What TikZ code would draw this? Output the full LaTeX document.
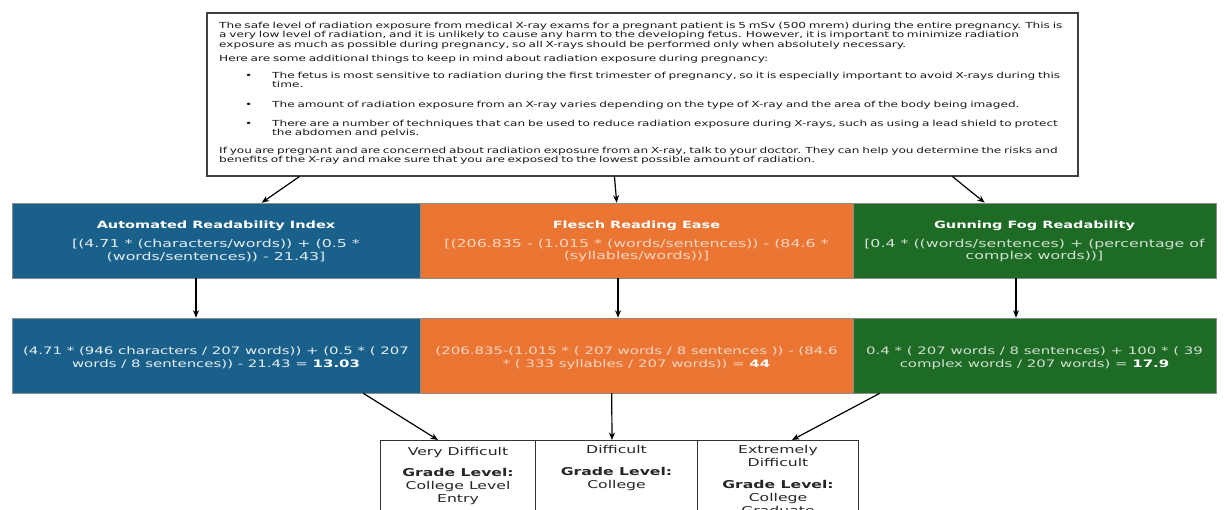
\documentclass[tikz,border=0pt]{standalone}
\usepackage{fontspec}
\setmainfont{DejaVu Sans}[FakeStretch=1.45]
\usetikzlibrary{arrows.meta,calc}
\definecolor{ariblue}{HTML}{19608A}
\definecolor{freorange}{HTML}{EB7533}
\definecolor{gungreen}{HTML}{1D6B24}
\definecolor{inktext}{HTML}{1A1A1A}
\begin{document}
\begin{tikzpicture}[x=1pt,y=-1pt,
  srcbox/.style={draw=black!75, line width=1.1pt, minimum width=871pt, minimum height=163pt, inner sep=0pt},
  colbox/.style={draw=black!45, line width=0.6pt, minimum height=75pt, inner sep=0pt},
  titletext/.style={font=\fontsize{10}{11}\selectfont\bfseries, text=white, inner sep=0pt},
  formtext/.style={font=\fontsize{10.9}{12.5}\selectfont, align=center, inner sep=0pt},
  calctext/.style={font=\fontsize{10.3}{12.5}\selectfont, align=center, inner sep=0pt},
  gradebox/.style={draw=black!80, line width=1pt, minimum height=100pt, inner sep=0pt, fill=white},
  gradetext/.style={font=\fontsize{10.8}{13}\selectfont, align=center, inner sep=0pt, anchor=north, text=black!85},
  conn/.style={-{Stealth[length=7.5pt,width=6pt]}, line width=1.2pt, black}
]
\useasboundingbox (0,0) rectangle (1228,510);
\fill[white] (0,0) rectangle (1228,510);

% source text box
\node[srcbox] (src) at (642.5,94.5) {};
\node[anchor=north west, inner sep=0pt, text width=870pt, align=left,
      font=\fontsize{8.35}{9.7}\selectfont, text=inktext] (srctext) at (219,21.5) {%
The safe level of radiation exposure from medical X-ray exams for a pregnant patient is 5 mSv (500 mrem) during the entire pregnancy. This is\\
a very low level of radiation, and it is unlikely to cause any harm to the developing fetus. However, it is important to minimize radiation\\
exposure as much as possible during pregnancy, so all X-rays should be performed only when absolutely necessary.\\[4pt]
Here are some additional things to keep in mind about radiation exposure during pregnancy:\\[7.3pt]
\hspace*{26pt}\makebox[27pt][l]{•}The fetus is most sensitive to radiation during the first trimester of pregnancy, so it is especially important to avoid X-rays during this\\
\hspace*{53pt}time.\\[9.5pt]
\hspace*{26pt}\makebox[27pt][l]{•}The amount of radiation exposure from an X-ray varies depending on the type of X-ray and the area of the body being imaged.\\[9.5pt]
\hspace*{26pt}\makebox[27pt][l]{•}There are a number of techniques that can be used to reduce radiation exposure during X-rays, such as using a lead shield to protect\\
\hspace*{53pt}the abdomen and pelvis.\\[7.5pt]
If you are pregnant and are concerned about radiation exposure from an X-ray, talk to your doctor. They can help you determine the risks and\\
benefits of the X-ray and make sure that you are exposed to the lowest possible amount of radiation.};

% formula row
\node[colbox, fill=ariblue, minimum width=408pt] (ari) at (216,240.5) {};
\node[colbox, fill=freorange, minimum width=433pt] (fre) at (636.5,240.5) {};
\node[colbox, fill=gungreen, minimum width=363pt] (gun) at (1034.5,240.5) {};
\node[titletext] (arit) at (216,226) {Automated Readability Index};
\node[titletext] (fret) at (636.5,226) {Flesch Reading Ease};
\node[titletext] (gunt) at (1034.5,226) {Gunning Fog Readability};
\node[formtext, text=white!88!ariblue] (arif) at (216,250.5) {[(4.71 * (characters/words)) + (0.5 *\\(words/sentences)) - 21.43]};
\node[formtext, text=white!70!freorange] (fref) at (636.5,250.5) {[(206.835 - (1.015 * (words/sentences)) - (84.6 *\\(syllables/words))]};
\node[formtext, text=white!80!gungreen] (gunf) at (1034.5,250.5) {[0.4 * ((words/sentences) + (percentage of\\complex words))]};

% calculation row
\node[colbox, fill=ariblue, minimum width=408pt] (ari2) at (216,355.5) {};
\node[colbox, fill=freorange, minimum width=433pt] (fre2) at (636.5,355.5) {};
\node[colbox, fill=gungreen, minimum width=363pt] (gun2) at (1034.5,355.5) {};
\node[calctext, text=white!90!ariblue] (ari2t) at (216,358) {(4.71 * (946 characters / 207 words)) + (0.5 * ( 207\\words / 8 sentences)) - 21.43 = \textbf{\color{white}13.03}};
\node[calctext, text=white!70!freorange] (fre2t) at (636.5,358) {(206.835-(1.015 * ( 207 words / 8 sentences )) - (84.6\\* ( 333 syllables / 207 words)) = \textbf{\color{white}44}};
\node[calctext, text=white!80!gungreen] (gun2t) at (1034.5,358) {0.4 * ( 207 words / 8 sentences) + 100 * ( 39\\complex words / 207 words) = \textbf{\color{white}17.9}};

% grade boxes
\node[gradebox, anchor=north west, minimum width=155pt] (g1) at (380,440) {};
\node[gradebox, anchor=north west, minimum width=162pt] (g2) at (535,440) {};
\node[gradebox, anchor=north west, minimum width=161pt] (g3) at (697,440) {};
\node[gradetext] (g1t) at ($(g1.north)+(0,7)$) {Very Difficult\\[8pt]\textbf{Grade Level:}\\College Level\\Entry};
\node[gradetext] (g2t) at ($(g2.north)+(0,5)$) {Difficult\\[9pt]\textbf{Grade Level:}\\College};
\node[gradetext] (g3t) at ($(g3.north)+(0,5)$) {Extremely\\Difficult\\[9pt]\textbf{Grade Level:}\\College\\Graduate};

% connectors
\draw[conn] ([xshift=93pt]src.south west) -- ([xshift=250pt]ari.north west);
\draw[conn] ([xshift=408pt]src.south west) -- ([xshift=197pt]fre.north west);
\draw[conn] ([xshift=746pt]src.south west) -- ([xshift=132pt]gun.north west);
\draw[conn] ([xshift=-20pt]ari.south) -- ([xshift=-20pt]ari2.north);
\draw[conn] ([xshift=-18.5pt]fre.south) -- ([xshift=-18.5pt]fre2.north);
\draw[conn] ([xshift=-18.5pt]gun.south) -- ([xshift=-18.5pt]gun2.north);
\draw[conn] ([xshift=-57pt]ari2.south east) -- ([xshift=58pt]g1.north west);
\draw[conn] ([xshift=192pt]fre2.south west) -- ([xshift=77pt]g2.north west);
\draw[conn] ([xshift=27pt]gun2.south west) -- ([xshift=95pt]g3.north west);
\end{tikzpicture}
\end{document}
